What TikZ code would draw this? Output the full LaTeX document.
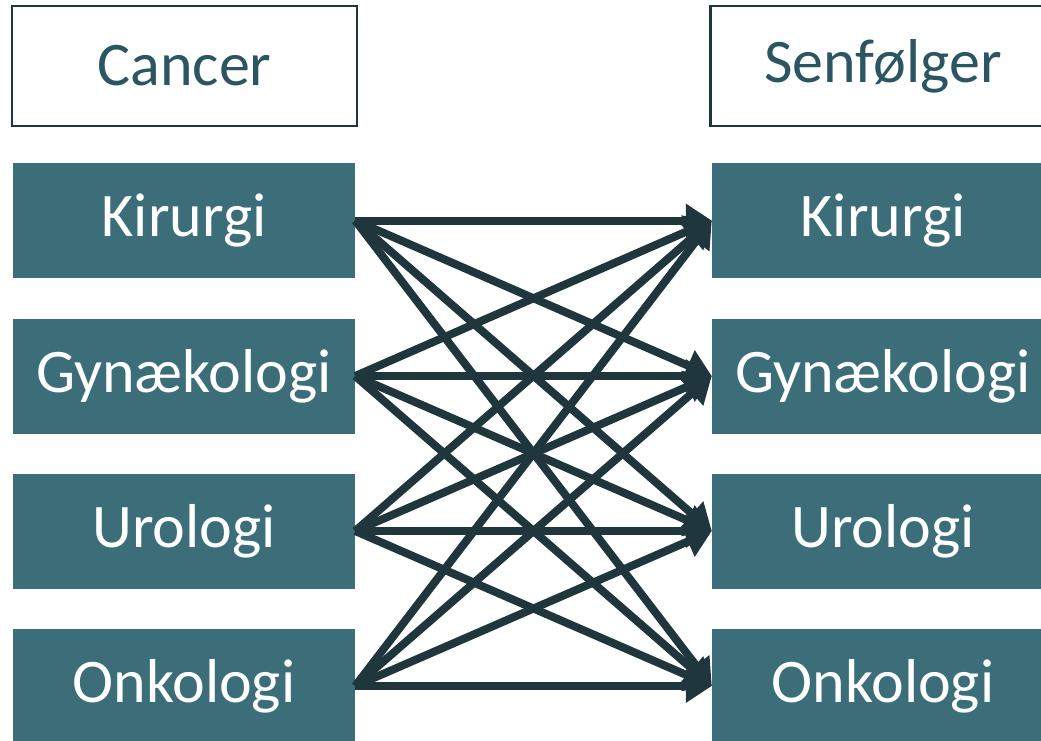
\documentclass[tikz,border=0pt]{standalone}
\usepackage{fontspec}
\setmainfont{Carlito}
\usepackage{tikz}
\usetikzlibrary{arrows.meta}
\definecolor{tealbox}{RGB}{59,110,120}
\definecolor{darkarrow}{RGB}{31,54,61}
\definecolor{headtext}{RGB}{43,85,96}
\tikzset{
  headbox/.style={draw=darkarrow, line width=2.5pt, fill=white, text=headtext,
    minimum width=345pt, minimum height=120pt, font=\fontsize{62}{70}\selectfont},
  fieldbox/.style={fill=tealbox, text=white, minimum width=342pt, minimum height=115pt,
    font=\fontsize{62}{70}\selectfont},
  link/.style={draw=darkarrow, line width=8pt, -{Triangle[length=26pt,width=32pt]}}
}
\begin{document}
\begin{tikzpicture}[x=1pt,y=-1pt]
\useasboundingbox (0,0) rectangle (1041,740);
% Column headers
\node[headbox] (cancer) at (184.5,66) {Cancer};
\node[headbox] (senf) at (883,66) {Senfølger};
% Cancer specialties (left)
\node[fieldbox] (l1) at (184,220.5) {Kirurgi};
\node[fieldbox] (l2) at (184,376) {Gynækologi};
\node[fieldbox] (l3) at (184,531) {Urologi};
\node[fieldbox] (l4) at (184,686) {Onkologi};
% Late effects specialties (right)
\node[fieldbox] (r1) at (883,220.5) {Kirurgi};
\node[fieldbox] (r2) at (883,376) {Gynækologi};
\node[fieldbox] (r3) at (883,531) {Urologi};
\node[fieldbox] (r4) at (883,686) {Onkologi};
% Every cancer specialty to every late effect
\foreach \i in {1,...,4}
  \foreach \j in {1,...,4}
    \draw[link] (l\i.east) -- (r\j.west);
\end{tikzpicture}
\end{document}
